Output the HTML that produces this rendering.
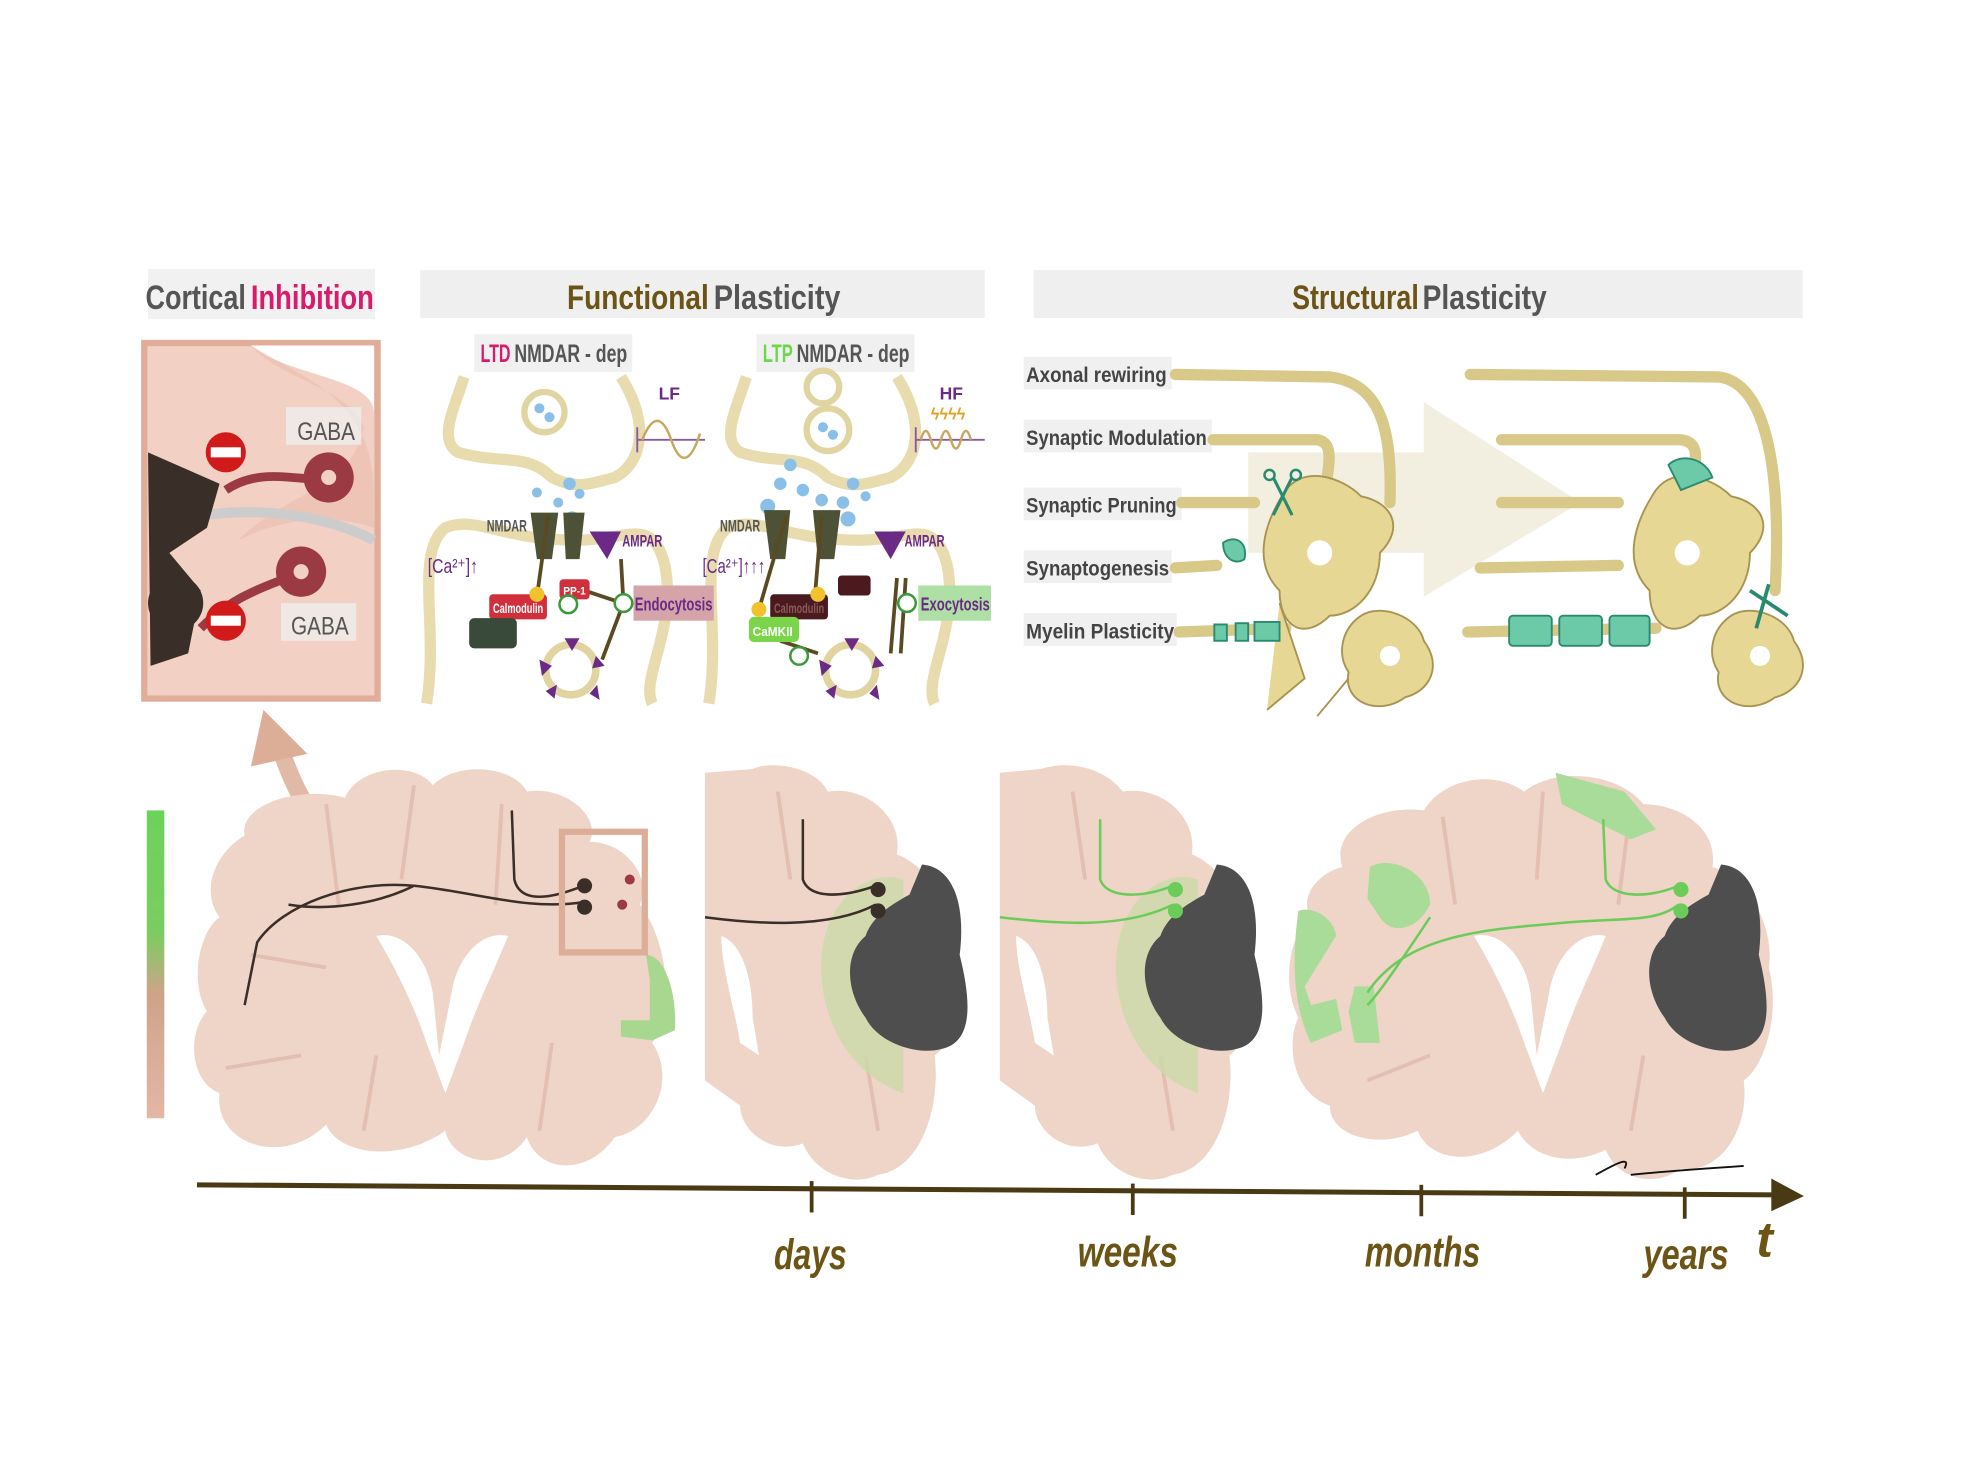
<!DOCTYPE html>
<html><head><meta charset="utf-8"><style>
html,body{margin:0;padding:0;background:#fff}
svg{display:block}
text{font-family:"Liberation Sans Narrow","Liberation Sans",sans-serif;font-weight:bold}
</style></head><body>
<svg width="1967" height="1460" viewBox="0 0 1568 1162" preserveAspectRatio="none" xmlns="http://www.w3.org/2000/svg">
<defs>
<linearGradient id="gb" x1="0" y1="0" x2="0" y2="1"><stop offset="0" stop-color="#6bd35a"/><stop offset="0.4" stop-color="#7ccc60"/><stop offset="0.6" stop-color="#cfa38a"/><stop offset="1" stop-color="#e3b7a5"/></linearGradient>
</defs>
<rect width="1568" height="1162" fill="#fff"/>

<!-- headers -->
<rect x="118" y="214" width="181" height="40" fill="#f1f1f1"/>
<text x="116" y="246" font-size="27" fill="#555" textLength="80" lengthAdjust="spacingAndGlyphs">Cortical</text>
<text x="200" y="246" font-size="27" fill="#d81b6a" textLength="98" lengthAdjust="spacingAndGlyphs">Inhibition</text>
<rect x="335" y="215" width="450" height="38" fill="#efefef"/>
<text x="452" y="246" font-size="27" fill="#6b5414" textLength="113" lengthAdjust="spacingAndGlyphs">Functional</text>
<text x="569" y="246" font-size="27" fill="#555" textLength="101" lengthAdjust="spacingAndGlyphs">Plasticity</text>
<rect x="824" y="215" width="613" height="38" fill="#efefef"/>
<text x="1030" y="246" font-size="27" fill="#6b5414" textLength="101" lengthAdjust="spacingAndGlyphs">Structural</text>
<text x="1134" y="246" font-size="27" fill="#555" textLength="99" lengthAdjust="spacingAndGlyphs">Plasticity</text>

<!-- inhibition box -->
<rect x="115" y="273" width="186" height="283" fill="#f2d0c4" stroke="#e2ad98" stroke-width="5"/>
<path d="M200,275 C230,300 300,300 298,330 L298,275 Z" fill="#fff"/>
<path d="M200,275 C250,305 300,320 298,400 L298,420 C270,410 230,410 190,430 C230,390 280,390 290,340 C280,310 220,300 200,275Z" fill="#eab8aa" opacity="0.5"/>
<path d="M120,420 C180,400 250,405 298,430" stroke="#ccc" stroke-width="8" fill="none"/>
<g fill="#3a2e28">
<circle cx="145" cy="400" r="24"/><circle cx="140" cy="480" r="22"/>
<path d="M118,360 L175,385 L165,420 L135,440 L160,470 L150,520 L120,530 Z"/>
</g>
<g fill="#9b3a42">
<circle cx="262" cy="380" r="20"/><circle cx="240" cy="455" r="20"/>
<path d="M180,390 C210,370 240,385 262,380" stroke="#9b3a42" stroke-width="7" fill="none"/>
<path d="M160,500 C190,470 220,465 240,455" stroke="#9b3a42" stroke-width="7" fill="none"/>
</g>
<circle cx="262" cy="380" r="6" fill="#f2d0c4"/><circle cx="240" cy="455" r="6" fill="#f2d0c4"/>
<circle cx="180" cy="360" r="16" fill="#d11a1a"/><rect x="168" y="356" width="24" height="8" fill="#fff"/>
<circle cx="180" cy="494" r="16" fill="#d11a1a"/><rect x="168" y="490" width="24" height="8" fill="#fff"/>
<rect x="228" y="324" width="60" height="30" fill="#eee" opacity="0.8"/>
<text x="237" y="350" font-size="20" fill="#555" style="font-weight:normal" textLength="46" lengthAdjust="spacingAndGlyphs">GABA</text>
<rect x="224" y="480" width="60" height="30" fill="#eee" opacity="0.8"/>
<text x="232" y="505" font-size="20" fill="#555" style="font-weight:normal" textLength="46" lengthAdjust="spacingAndGlyphs">GABA</text>

<!-- functional plasticity -->
<rect x="378" y="266" width="126" height="30" fill="#f0f0f0"/>
<text x="383" y="288" font-size="20" fill="#d81b6a" textLength="24" lengthAdjust="spacingAndGlyphs">LTD</text>
<text x="410" y="288" font-size="20" fill="#555" textLength="90" lengthAdjust="spacingAndGlyphs">NMDAR - dep</text>
<rect x="603" y="266" width="126" height="30" fill="#f0f0f0"/>
<text x="608" y="288" font-size="20" fill="#6bd84a" textLength="24" lengthAdjust="spacingAndGlyphs">LTP</text>
<text x="635" y="288" font-size="20" fill="#555" textLength="90" lengthAdjust="spacingAndGlyphs">NMDAR - dep</text>
<g fill="none" stroke="#e8dcae" stroke-width="9">
<path d="M370,300 C360,330 350,350 365,360 C400,370 420,360 440,380 C460,390 470,385 490,380 C510,370 520,340 495,300"/>
<path d="M340,560 C350,500 330,440 355,420 C380,410 400,430 460,430 C500,430 520,410 530,450 C540,500 510,540 520,560"/>
<path d="M595,300 C585,330 575,350 590,360 C620,370 640,360 660,380 C680,390 690,385 710,380 C730,370 740,340 715,300"/>
<path d="M565,560 C575,500 555,440 580,420 C605,410 625,430 685,430 C725,430 745,410 755,450 C765,500 735,540 745,560"/>
</g>
<circle cx="434" cy="328" r="16" fill="#fff" stroke="#e0d4a0" stroke-width="5"/>
<circle cx="656" cy="308" r="13" fill="#fff" stroke="#e0d4a0" stroke-width="5"/>
<circle cx="660" cy="342" r="17" fill="#fff" stroke="#e0d4a0" stroke-width="5"/>
<g fill="#8ac0e8">
<circle cx="430" cy="325" r="4"/><circle cx="438" cy="332" r="4"/><circle cx="454" cy="385" r="5"/><circle cx="462" cy="393" r="4"/><circle cx="445" cy="400" r="4"/><circle cx="456" cy="413" r="6"/><circle cx="428" cy="392" r="4"/>
<circle cx="656" cy="340" r="4"/><circle cx="664" cy="346" r="4"/><circle cx="630" cy="370" r="5"/><circle cx="622" cy="385" r="5"/><circle cx="640" cy="390" r="5"/><circle cx="612" cy="403" r="6"/><circle cx="680" cy="385" r="5"/><circle cx="672" cy="400" r="5"/><circle cx="690" cy="395" r="4"/><circle cx="676" cy="413" r="6"/><circle cx="655" cy="398" r="5"/>
</g>
<g fill="#4d5136">
<path d="M423,408 L445,408 L440,445 L428,445Z"/><path d="M449,408 L466,408 L462,445 L451,445Z"/>
<path d="M609,406 L630,406 L626,445 L614,445Z"/><path d="M648,406 L670,406 L665,445 L652,445Z"/>
</g>
<text x="388" y="423" font-size="13" fill="#555" textLength="32" lengthAdjust="spacingAndGlyphs">NMDAR</text>
<text x="574" y="423" font-size="13" fill="#555" textLength="32" lengthAdjust="spacingAndGlyphs">NMDAR</text>
<path d="M470,423 L495,423 L484,445Z" fill="#6a2a86"/><text x="496" y="435" font-size="13" fill="#6a2a86" textLength="32" lengthAdjust="spacingAndGlyphs">AMPAR</text>
<path d="M697,423 L722,423 L710,445Z" fill="#6a2a86"/><text x="721" y="435" font-size="13" fill="#6a2a86" textLength="32" lengthAdjust="spacingAndGlyphs">AMPAR</text>
<text x="341" y="456" font-size="16" fill="#6a2a86" style="font-weight:normal" textLength="40" lengthAdjust="spacingAndGlyphs">[Ca²⁺]↑</text>
<text x="560" y="456" font-size="16" fill="#6a2a86" style="font-weight:normal" textLength="50" lengthAdjust="spacingAndGlyphs">[Ca²⁺]↑↑↑</text>
<g stroke="#5a4a22" stroke-width="3" fill="none">
<path d="M437,410 L428,475"/><path d="M495,445 L497,480 L480,525"/><path d="M466,470 L490,478"/>
<path d="M627,410 L605,485"/><path d="M655,410 L650,470"/><path d="M710,520 L715,460 M718,520 L722,460"/>
<path d="M622,510 L652,520"/>
</g>
<rect x="390" y="473" width="46" height="20" rx="3" fill="#d0303c"/><text x="393" y="488" font-size="11" fill="#fff" textLength="40" lengthAdjust="spacingAndGlyphs">Calmodulin</text>
<rect x="446" y="461" width="24" height="16" rx="3" fill="#d0303c"/><text x="449" y="473" font-size="9" fill="#fff" textLength="18" lengthAdjust="spacingAndGlyphs">PP-1</text>
<rect x="374" y="492" width="38" height="24" rx="4" fill="#3a4a3a"/>
<circle cx="428" cy="473" r="6" fill="#f2c22e"/>
<circle cx="453" cy="481" r="7" fill="#fff" stroke="#3a9a3a" stroke-width="2"/>
<circle cx="497" cy="480" r="7" fill="#fff" stroke="#3a9a3a" stroke-width="2"/>
<rect x="505" y="466" width="64" height="28" fill="#d4a4a8"/><text x="506" y="486" font-size="15" fill="#6a2a86" textLength="62" lengthAdjust="spacingAndGlyphs">Endocytosis</text>
<rect x="614" y="473" width="46" height="20" rx="3" fill="#4a1a1e"/><text x="617" y="488" font-size="11" fill="#8a5a5a" textLength="40" lengthAdjust="spacingAndGlyphs">Calmodulin</text>
<rect x="668" y="458" width="26" height="16" rx="3" fill="#4a1a1e"/>
<rect x="597" y="491" width="40" height="20" rx="4" fill="#7ad54a"/><text x="600" y="506" font-size="10" fill="#fff" textLength="32" lengthAdjust="spacingAndGlyphs">CaMKII</text>
<circle cx="605" cy="485" r="6" fill="#f2c22e"/><circle cx="652" cy="473" r="6" fill="#f2c22e"/>
<circle cx="637" cy="522" r="7" fill="#fff" stroke="#3a9a3a" stroke-width="2"/>
<circle cx="723" cy="480" r="7" fill="#fff" stroke="#3a9a3a" stroke-width="2"/>
<rect x="732" y="466" width="58" height="28" fill="#aedfa4"/><text x="734" y="486" font-size="15" fill="#6a2a86" textLength="55" lengthAdjust="spacingAndGlyphs">Exocytosis</text>
<circle cx="455" cy="533" r="20" fill="none" stroke="#e0d4a0" stroke-width="6"/>
<circle cx="678" cy="533" r="20" fill="none" stroke="#e0d4a0" stroke-width="6"/>
<g fill="#6a2a86"><path d="M450,508 L462,508 L456,518Z"/><path d="M430,525 L440,530 L432,538Z"/><path d="M475,522 L482,530 L472,532Z"/><path d="M435,550 L444,545 L442,556Z"/><path d="M470,552 L476,545 L478,557Z"/>
<path d="M673,508 L685,508 L679,518Z"/><path d="M653,525 L663,530 L655,538Z"/><path d="M698,522 L705,530 L695,532Z"/><path d="M658,550 L667,545 L665,556Z"/><path d="M693,552 L699,545 L701,557Z"/></g>
<text x="525" y="318" font-size="14" fill="#6a2a86">LF</text>
<path d="M508,350 L562,350 M508,340 L508,360" stroke="#8a5aa0" stroke-width="1.5"/>
<path d="M512,350 C520,330 528,330 535,350 C542,370 550,370 558,345" stroke="#c8a860" fill="none" stroke-width="2"/>
<text x="749" y="318" font-size="14" fill="#6a2a86">HF</text>
<text x="742" y="334" font-size="13" fill="#e0a020">ϟϟϟϟ</text>
<path d="M730,350 L785,350 M730,340 L730,360" stroke="#8a5aa0" stroke-width="1.5"/>
<path d="M734,350 q4,-14 8,0 q4,14 8,0 q4,-14 8,0 q4,14 8,0 q4,-14 8,0" stroke="#c8a860" fill="none" stroke-width="2"/>

<!-- structural plasticity -->
<path d="M1135,320 L1260,400 L1135,475 Z M995,360 L1135,360 L1135,440 L995,440Z" fill="#f3efe0"/>
<g fill="#f0f0f0">
<rect x="816" y="284" width="118" height="26"/><rect x="816" y="334" width="150" height="26"/><rect x="816" y="388" width="126" height="26"/><rect x="816" y="438" width="118" height="26"/><rect x="816" y="488" width="122" height="26"/>
</g>
<g font-size="17" fill="#444">
<text x="818" y="304" textLength="112" lengthAdjust="spacingAndGlyphs">Axonal rewiring</text>
<text x="818" y="354" textLength="144" lengthAdjust="spacingAndGlyphs">Synaptic Modulation</text>
<text x="818" y="408" textLength="120" lengthAdjust="spacingAndGlyphs">Synaptic Pruning</text>
<text x="818" y="458" textLength="114" lengthAdjust="spacingAndGlyphs">Synaptogenesis</text>
<text x="818" y="508" textLength="118" lengthAdjust="spacingAndGlyphs">Myelin Plasticity</text>
</g>
<g fill="none" stroke="#d8c988" stroke-width="9" stroke-linecap="round">
<path d="M937,298 L1060,300 C1100,305 1110,340 1108,400"/>
<path d="M967,350 L1050,350 C1062,352 1060,365 1058,380"/>
<path d="M942,400 L1000,400"/><path d="M937,452 L970,450"/><path d="M940,503 L1025,500"/>
<path d="M1172,298 L1370,300 C1410,305 1420,380 1415,470"/>
<path d="M1197,350 L1340,350 C1355,352 1352,365 1350,380"/>
<path d="M1197,400 L1290,400"/><path d="M1180,452 L1290,450"/><path d="M1170,503 L1320,500"/>
</g>
<g fill="#e6d795" stroke="#a89450" stroke-width="1.5">
<path d="M1025,390 C1040,370 1070,380 1085,395 C1110,400 1120,420 1100,440 C1100,470 1080,490 1060,490 C1040,510 1020,500 1020,470 C1000,450 1005,420 1025,390Z"/>
<path d="M1085,490 C1100,480 1130,490 1135,510 C1150,530 1140,550 1120,555 C1100,570 1070,560 1075,535 C1065,520 1070,500 1085,490Z"/>
<path d="M1020,480 L1040,540 L1010,565 M1075,540 L1050,570"/>
<path d="M1320,390 C1335,370 1365,380 1380,395 C1405,400 1415,420 1395,440 C1395,470 1375,490 1355,490 C1335,510 1315,500 1315,470 C1295,450 1300,420 1320,390Z"/>
<path d="M1380,490 C1395,480 1425,490 1430,510 C1445,530 1435,550 1415,555 C1395,570 1365,560 1370,535 C1360,520 1365,500 1380,490Z"/>
</g>
<circle cx="1052" cy="440" r="10" fill="#fff"/><circle cx="1108" cy="522" r="8" fill="#fff"/>
<circle cx="1345" cy="440" r="10" fill="#fff"/><circle cx="1403" cy="522" r="8" fill="#fff"/>
<g fill="#6ccaa8" stroke="#2a8a70" stroke-width="1.5">
<rect x="968" y="497" width="10" height="13"/><rect x="985" y="496" width="10" height="14"/><rect x="1000" y="495" width="20" height="15"/>
<rect x="1203" y="490" width="34" height="24" rx="3"/><rect x="1243" y="490" width="34" height="24" rx="3"/><rect x="1283" y="490" width="32" height="24" rx="3"/>
<path d="M975,432 C985,425 995,432 992,445 C985,450 975,445 975,432Z"/>
<path d="M1330,370 C1340,360 1360,365 1365,380 L1340,390Z"/>
</g>
<path d="M1015,380 L1030,410 M1030,380 L1015,410" stroke="#2a8a70" stroke-width="2.5"/>
<circle cx="1012" cy="378" r="4" fill="none" stroke="#2a8a70" stroke-width="2"/><circle cx="1033" cy="378" r="4" fill="none" stroke="#2a8a70" stroke-width="2"/>
<path d="M1395,470 L1425,490 M1410,465 L1400,500" stroke="#2a8a70" stroke-width="3"/>

<!-- arrow from brain to inset -->
<path d="M440,730 C330,725 260,700 225,600" fill="none" stroke="#dcae98" stroke-width="14" opacity="0.85"/>
<path d="M210,565 L245,600 L200,610Z" fill="#dcae98"/>

<!-- green bar -->
<rect x="117" y="645" width="14" height="245" fill="url(#gb)"/>

<!-- brains -->
<g fill="#efd4c8">
<path d="M195,665 C190,640 240,625 275,635 C285,610 330,605 345,625 C365,605 410,610 420,630 C450,625 480,650 470,670 C500,670 520,700 510,720 C530,745 540,800 520,830 C540,860 520,900 490,905 C470,935 430,935 420,905 C400,935 360,925 355,900 C320,925 270,920 260,895 C225,930 170,910 175,870 C150,860 150,820 165,805 C150,780 160,740 175,730 C160,710 170,680 195,665Z"/>
<path d="M562,615 L600,612 C615,605 650,610 660,630 C690,625 720,650 715,680 C740,690 760,720 760,750 C775,790 760,830 745,840 C750,880 735,930 700,935 C680,945 650,935 640,910 C615,920 590,900 590,880 L562,860Z"/>
<path d="M797,615 L830,612 C850,605 880,610 895,630 C925,625 955,650 950,680 C975,690 990,720 995,750 C1005,790 995,830 980,840 C985,880 970,930 935,935 C915,945 885,935 875,910 C850,920 825,900 825,880 L797,860Z"/>
<path d="M1070,690 C1060,660 1100,640 1135,645 C1150,620 1190,612 1215,630 C1240,610 1290,615 1310,640 C1340,640 1370,660 1365,690 C1395,700 1415,740 1410,770 C1420,810 1405,850 1390,860 C1395,900 1370,935 1340,930 C1320,945 1290,940 1280,915 C1250,930 1220,920 1210,900 C1180,930 1140,925 1130,900 C1100,915 1060,905 1060,880 C1030,870 1025,830 1035,810 C1020,780 1030,740 1045,730 C1035,715 1050,695 1070,690Z"/>
</g>
<g fill="#fff">
<path d="M300,745 C320,740 340,760 345,790 L350,840 L360,790 C365,760 385,740 405,745 C395,770 380,800 370,830 L355,870 L340,830 C330,800 315,770 300,745Z"/>
<path d="M1175,745 C1195,740 1215,760 1220,790 L1225,840 L1235,790 C1240,760 1260,740 1280,745 C1270,770 1255,800 1245,830 L1230,870 L1215,830 C1205,800 1190,770 1175,745Z"/>
<path d="M575,745 C590,750 600,775 600,810 L605,840 L590,830 C585,800 575,770 575,745Z"/>
<path d="M810,745 C825,750 835,775 835,810 L840,840 L825,830 C820,800 810,770 810,745Z"/>
</g>
<g fill="none" stroke="#e3bfb2" stroke-width="3">
<path d="M260,640 L270,720 M330,625 L320,700 M400,640 L395,720 M200,760 L260,770 M180,850 L240,840 M430,900 L440,830 M290,900 L300,840"/>
<path d="M1150,650 L1160,720 M1230,630 L1225,700 M1300,640 L1290,720 M1090,860 L1140,840 M1300,900 L1310,840"/>
<path d="M620,630 L630,700 M700,900 L690,840 M855,630 L865,700 M935,900 L925,840"/>
</g>
<path d="M515,760 C530,760 540,790 538,820 L520,828 L495,825 L495,812 L518,812 L518,780Z" fill="#a8d890"/>
<path d="M655,780 C650,720 690,690 720,700 L720,870 C690,860 660,830 655,780Z" fill="#cbd9a8" opacity="0.8"/>
<path d="M890,780 C885,720 925,690 955,700 L955,870 C925,860 895,830 890,780Z" fill="#cbd9a8" opacity="0.8"/>
<g fill="#a8dc98">
<path d="M1240,615 L1295,630 L1320,660 L1300,668 L1245,640Z"/>
<path d="M1092,690 C1110,680 1140,695 1140,720 C1130,740 1110,745 1100,730 L1090,715Z"/>
<path d="M1035,725 C1050,720 1065,735 1065,745 L1040,785 L1045,800 L1065,795 L1070,820 L1045,830 C1030,800 1030,760 1035,725Z"/>
<path d="M1080,785 L1095,785 L1100,830 L1080,830 L1075,805Z"/>
</g>
<g fill="#4e4e4e">
<path d="M735,688 C760,690 770,720 765,760 C775,800 775,830 750,835 C730,840 700,830 690,810 C675,790 672,760 690,745 C695,730 710,720 725,712Z"/>
<path d="M970,688 C995,690 1005,720 1000,760 C1010,800 1010,830 985,835 C965,840 935,830 925,810 C910,790 907,760 925,745 C930,730 945,720 960,712Z"/>
<path d="M1372,688 C1397,690 1407,720 1402,760 C1412,800 1412,830 1387,835 C1367,840 1337,830 1327,810 C1312,790 1309,760 1327,745 C1332,730 1347,720 1362,712Z"/>
</g>
<g fill="none" stroke-width="2">
<path d="M408,645 L410,700 C415,720 440,715 465,705" stroke="#3a2e28"/>
<path d="M195,800 L205,750 C225,720 280,700 330,705 C380,710 420,725 465,718" stroke="#3a2e28"/>
<path d="M230,720 C260,725 300,720 330,705" stroke="#3a2e28"/>
<path d="M640,652 L640,700 C645,715 670,715 698,705" stroke="#3a2e28"/>
<path d="M562,730 C600,735 660,740 698,720" stroke="#3a2e28"/>
<path d="M877,652 L877,700 C882,715 910,715 935,705" stroke="#6ccc5a"/>
<path d="M797,730 C840,735 895,740 935,720" stroke="#6ccc5a"/>
<path d="M1278,652 L1280,700 C1285,715 1315,715 1338,705" stroke="#6ccc5a"/>
<path d="M1090,790 C1120,745 1180,740 1240,735 C1290,730 1320,735 1338,720 M1140,730 C1120,760 1100,790 1090,800" stroke="#6ccc5a"/>
</g>
<g fill="#3a2e28"><circle cx="466" cy="705" r="6"/><circle cx="466" cy="722" r="6"/><circle cx="700" cy="708" r="6"/><circle cx="700" cy="725" r="6"/></g>
<g fill="#9b3a42"><circle cx="502" cy="700" r="4"/><circle cx="496" cy="720" r="4"/></g>
<g fill="#6ccc5a"><circle cx="937" cy="708" r="6"/><circle cx="937" cy="725" r="6"/><circle cx="1340" cy="708" r="6"/><circle cx="1340" cy="725" r="6"/></g>
<rect x="448" y="662" width="66" height="96" fill="none" stroke="#dcae98" stroke-width="5"/>

<!-- timeline -->
<path d="M157,943 L1418,951" stroke="#4a3a14" stroke-width="4"/>
<path d="M1412,938 L1438,952 L1412,964Z" fill="#4a3a14"/>
<g stroke="#4a3a14" stroke-width="3"><path d="M647,940 L647,965"/><path d="M903,942 L903,967"/><path d="M1133,943 L1133,968"/><path d="M1343,945 L1343,970"/></g>
<path d="M1272,935 C1290,925 1300,920 1295,930 M1300,935 C1330,932 1360,930 1390,928" stroke="#111" stroke-width="1.5" fill="none"/>
<g font-size="34" fill="#6b5414" font-style="italic">
<text x="617" y="1010" textLength="58" lengthAdjust="spacingAndGlyphs">days</text>
<text x="859" y="1008" textLength="80" lengthAdjust="spacingAndGlyphs">weeks</text>
<text x="1088" y="1008" textLength="92" lengthAdjust="spacingAndGlyphs">months</text>
<text x="1310" y="1010" textLength="68" lengthAdjust="spacingAndGlyphs">years</text>
<text x="1400" y="1000" font-size="40">t</text>
</g>
</svg>
</body></html>
